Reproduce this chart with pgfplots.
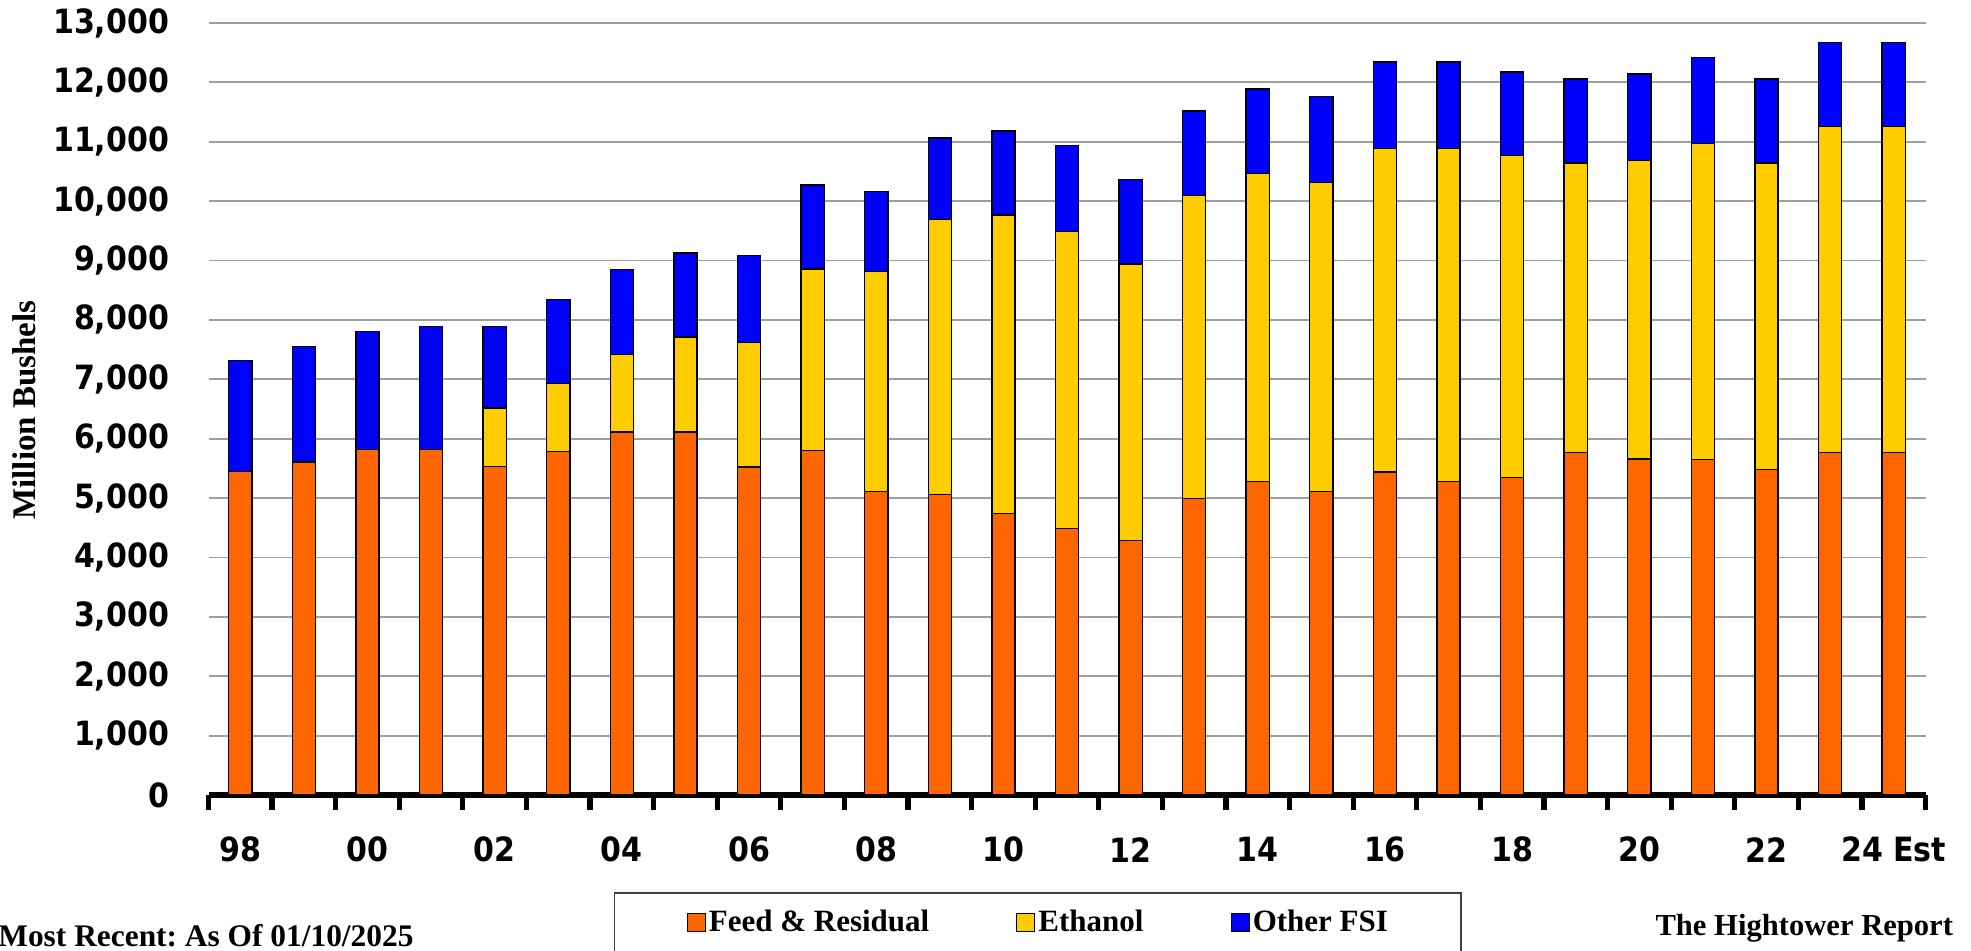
\documentclass[border=0pt]{standalone}
\usepackage{fontspec}
\setmainfont{Liberation Serif}
\newfontfamily\tickfont{DejaVuSansCondensed-Bold.ttf}
\usepackage{pgfplots}
\pgfplotsset{compat=1.18}
\usepackage{pgfplotstable}
\definecolor{feedor}{HTML}{FF6600}
\definecolor{ethyel}{HTML}{FFCC00}
\definecolor{fsiblue}{HTML}{0000FF}
\pgfplotsset{
  sqlegend/.style={legend image code/.code={\draw[##1, draw=black, line width=0.6pt] (0pt,-4.5pt) rectangle (9pt,4.5pt);}}
}
\frenchspacing

% corn use, million bushels (1998 .. 2024 est)
\pgfplotstableread{
x feed ethanol other
0 5450 0 1865
1 5605 0 1950
2 5820 0 1985
3 5820 0 2070
4 5535 980 1370
5 5780 1150 1410
6 6115 1300 1430
7 6115 1595 1415
8 5525 2095 1460
9 5800 3055 1420
10 5110 3705 1345
11 5060 4630 1375
12 4740 5030 1410
13 4490 5000 1445
14 4285 4660 1420
15 4995 5100 1420
16 5280 5190 1420
17 5110 5200 1455
18 5440 5445 1455
19 5275 5615 1450
20 5350 5415 1410
21 5770 4875 1410
22 5660 5025 1455
23 5645 5325 1450
24 5480 5165 1410
25 5765 5495 1410
26 5765 5495 1410
}\corndata

\begin{document}
\begin{tikzpicture}
\begin{axis}[
  at={(104.25pt,77.5pt)}, anchor=south west,
  scale only axis, width=858.5pt, height=386pt,
  xmin=-0.5, xmax=26.5, ymin=0, ymax=13000, enlargelimits=false,
  ybar stacked, bar width=11.6pt,
  axis x line*=bottom, axis y line*=left,
  y axis line style={draw=none},
  x axis line style={line width=2.8pt},
  ymajorgrids, major grid style={line width=0.9pt, color=black!38},
  ytick={0,1000,...,13000}, ytick style={draw=none},
  scaled y ticks=false,
  /pgf/number format/1000 sep={,},
  /pgf/number format/assume math mode=true,
  xtick={0,...,26},
  xticklabels={98,,00,,02,,04,,06,,08,,10,,12,,14,,16,,18,,20,,22,,24 Est},
  major tick length=0pt,
  minor xtick={-0.5,0.5,...,26.5},
  minor tick length=7.5pt, tick align=outside,
  minor tick style={line width=2.6pt, black},
  xticklabel style={font=\tickfont\fontsize{16.7}{20}\selectfont, anchor=center, yshift=-27.3pt, inner sep=0pt},
  yticklabel style={font=\tickfont\fontsize{16.7}{20}\selectfont, anchor=east, xshift=-19.5pt, inner sep=0pt},
  legend columns=3,
  legend style={at={(0.483,-0.126)}, anchor=north, draw=black!75, line width=0.75pt,
    inner xsep=36pt, inner ysep=8pt, font=\fontsize{15.5}{18}\selectfont\bfseries,
    nodes={inner sep=0.5pt},
    /tikz/every odd column/.append style={column sep=1pt},
    /tikz/every even column/.append style={column sep=43pt}},
]
\addplot[fill=feedor, draw=black, line width=0.7pt, sqlegend] table[x=x, y=feed] {\corndata};
\addplot[fill=ethyel, draw=black, line width=0.7pt, sqlegend] table[x=x, y=ethanol] {\corndata};
\addplot[fill=fsiblue, draw=black, line width=0.7pt, sqlegend] table[x=x, y=other] {\corndata};
\legend{Feed \& Residual, Ethanol, Other FSI}
\end{axis}
\node[rotate=90, font=\fontsize{16.5}{20}\selectfont\bfseries] at (12pt,270pt) {Million Bushels};
\node[anchor=base west, inner sep=0pt, font=\fontsize{15.7}{18}\selectfont\bfseries] at (-1pt,1.65pt) {Most Recent: As Of 01/10/2025};
\node[anchor=base east, inner sep=0pt, font=\fontsize{15.3}{18}\selectfont\bfseries] at (976.7pt,7.5pt) {The Hightower Report};
\pgfresetboundingbox
\path[use as bounding box] (0,0) rectangle (985.5pt,475pt);
\end{tikzpicture}
\end{document}
